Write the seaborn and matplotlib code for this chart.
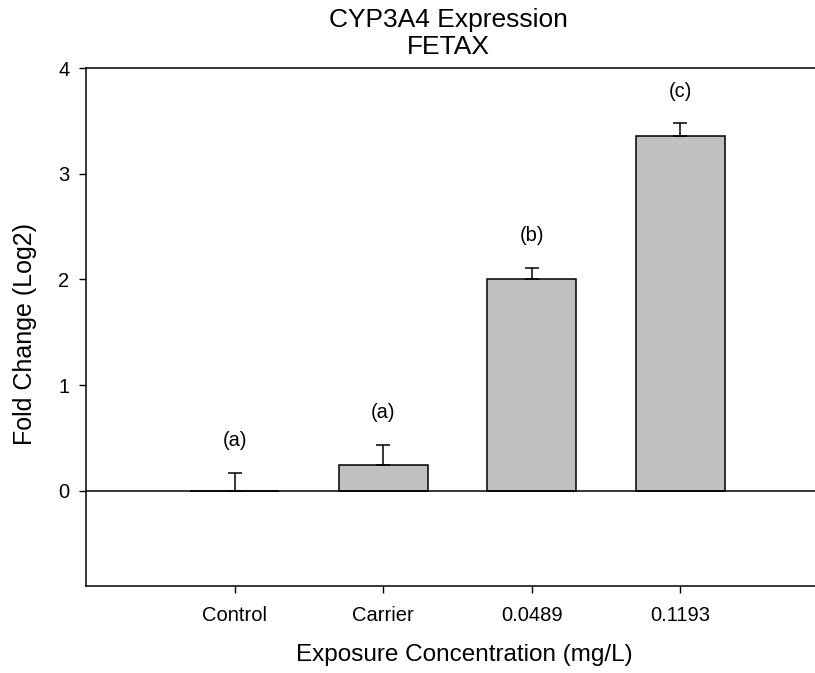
import matplotlib
matplotlib.use("Agg")
import matplotlib.pyplot as plt
import seaborn as sns
import numpy as np
import pandas as pd

# Expression data (log2 fold change, mean and upper error)
categories = ["Control", "Carrier", "0.0489", "0.1193"]
fold_change = [0.0, 0.245, 2.005, 3.36]
error_upper = [0.172, 0.19, 0.105, 0.12]
group_letters = ["(a)", "(a)", "(b)", "(c)"]
y_ticks = [0, 1, 2, 3, 4]

sns.set_theme(style="ticks")
plt.rcParams["font.family"] = ["Liberation Sans", "DejaVu Sans"]

fig = plt.figure(figsize=(8.15, 6.73), dpi=100)
ax = fig.add_axes([86 / 815, 1 - 586 / 673, 742.7 / 815, 518 / 673])

df = pd.DataFrame({"group": categories, "value": fold_change})
sns.barplot(data=df, x="group", y="value", order=categories, color="#C0C0C0",
            edgecolor="black", linewidth=1.1, width=0.6, saturation=1,
            errorbar=None, ax=ax)

xpos = np.arange(len(categories))
ax.errorbar(xpos, fold_change, yerr=[np.zeros(len(categories)), error_upper],
            fmt="none", ecolor="black", elinewidth=1.1, capsize=4.7,
            capthick=1.1, zorder=3)

for x, v, e, lab in zip(xpos, fold_change, error_upper, group_letters):
    ax.annotate(lab, xy=(x, v + e), xytext=(0, 23), textcoords="offset points",
                ha="center", va="center", fontsize=14.5, color="black")

ax.axhline(0, color="black", linewidth=1.1, zorder=4)

ax.set_xlim(-1, 4)
ax.set_ylim(-0.9, 4)
ax.set_yticks(y_ticks)
ax.set_yticklabels([str(t) for t in y_ticks])
ax.set_xlabel("")
ax.set_ylabel("")

for side in ["left", "bottom", "top", "right"]:
    ax.spines[side].set_visible(True)
    ax.spines[side].set_color("black")
    ax.spines[side].set_linewidth(1.1)

ax.tick_params(axis="both", direction="out", length=5, width=1.0,
               color="black", labelsize=14.5, labelcolor="black")
ax.tick_params(axis="x", pad=9.6)
ax.tick_params(axis="y", pad=7)

# Two-line title
fig.text(448 / 815, 1 - 26.7 / 673, "CYP3A4 Expression", ha="center",
         va="baseline", fontsize=19, color="black")
fig.text(448 / 815, 1 - 54 / 673, "FETAX", ha="center",
         va="baseline", fontsize=19, color="black")
fig.text(464 / 815, 1 - 661 / 673, "Exposure Concentration (mg/L)",
         ha="center", va="baseline", fontsize=17.5, color="black")
fig.text(25 / 815, 1 - 334 / 673, "Fold Change (Log2)", rotation=90,
         ha="center", va="center", fontsize=18, color="black")

fig.savefig("out.png", dpi=100, facecolor="white")
